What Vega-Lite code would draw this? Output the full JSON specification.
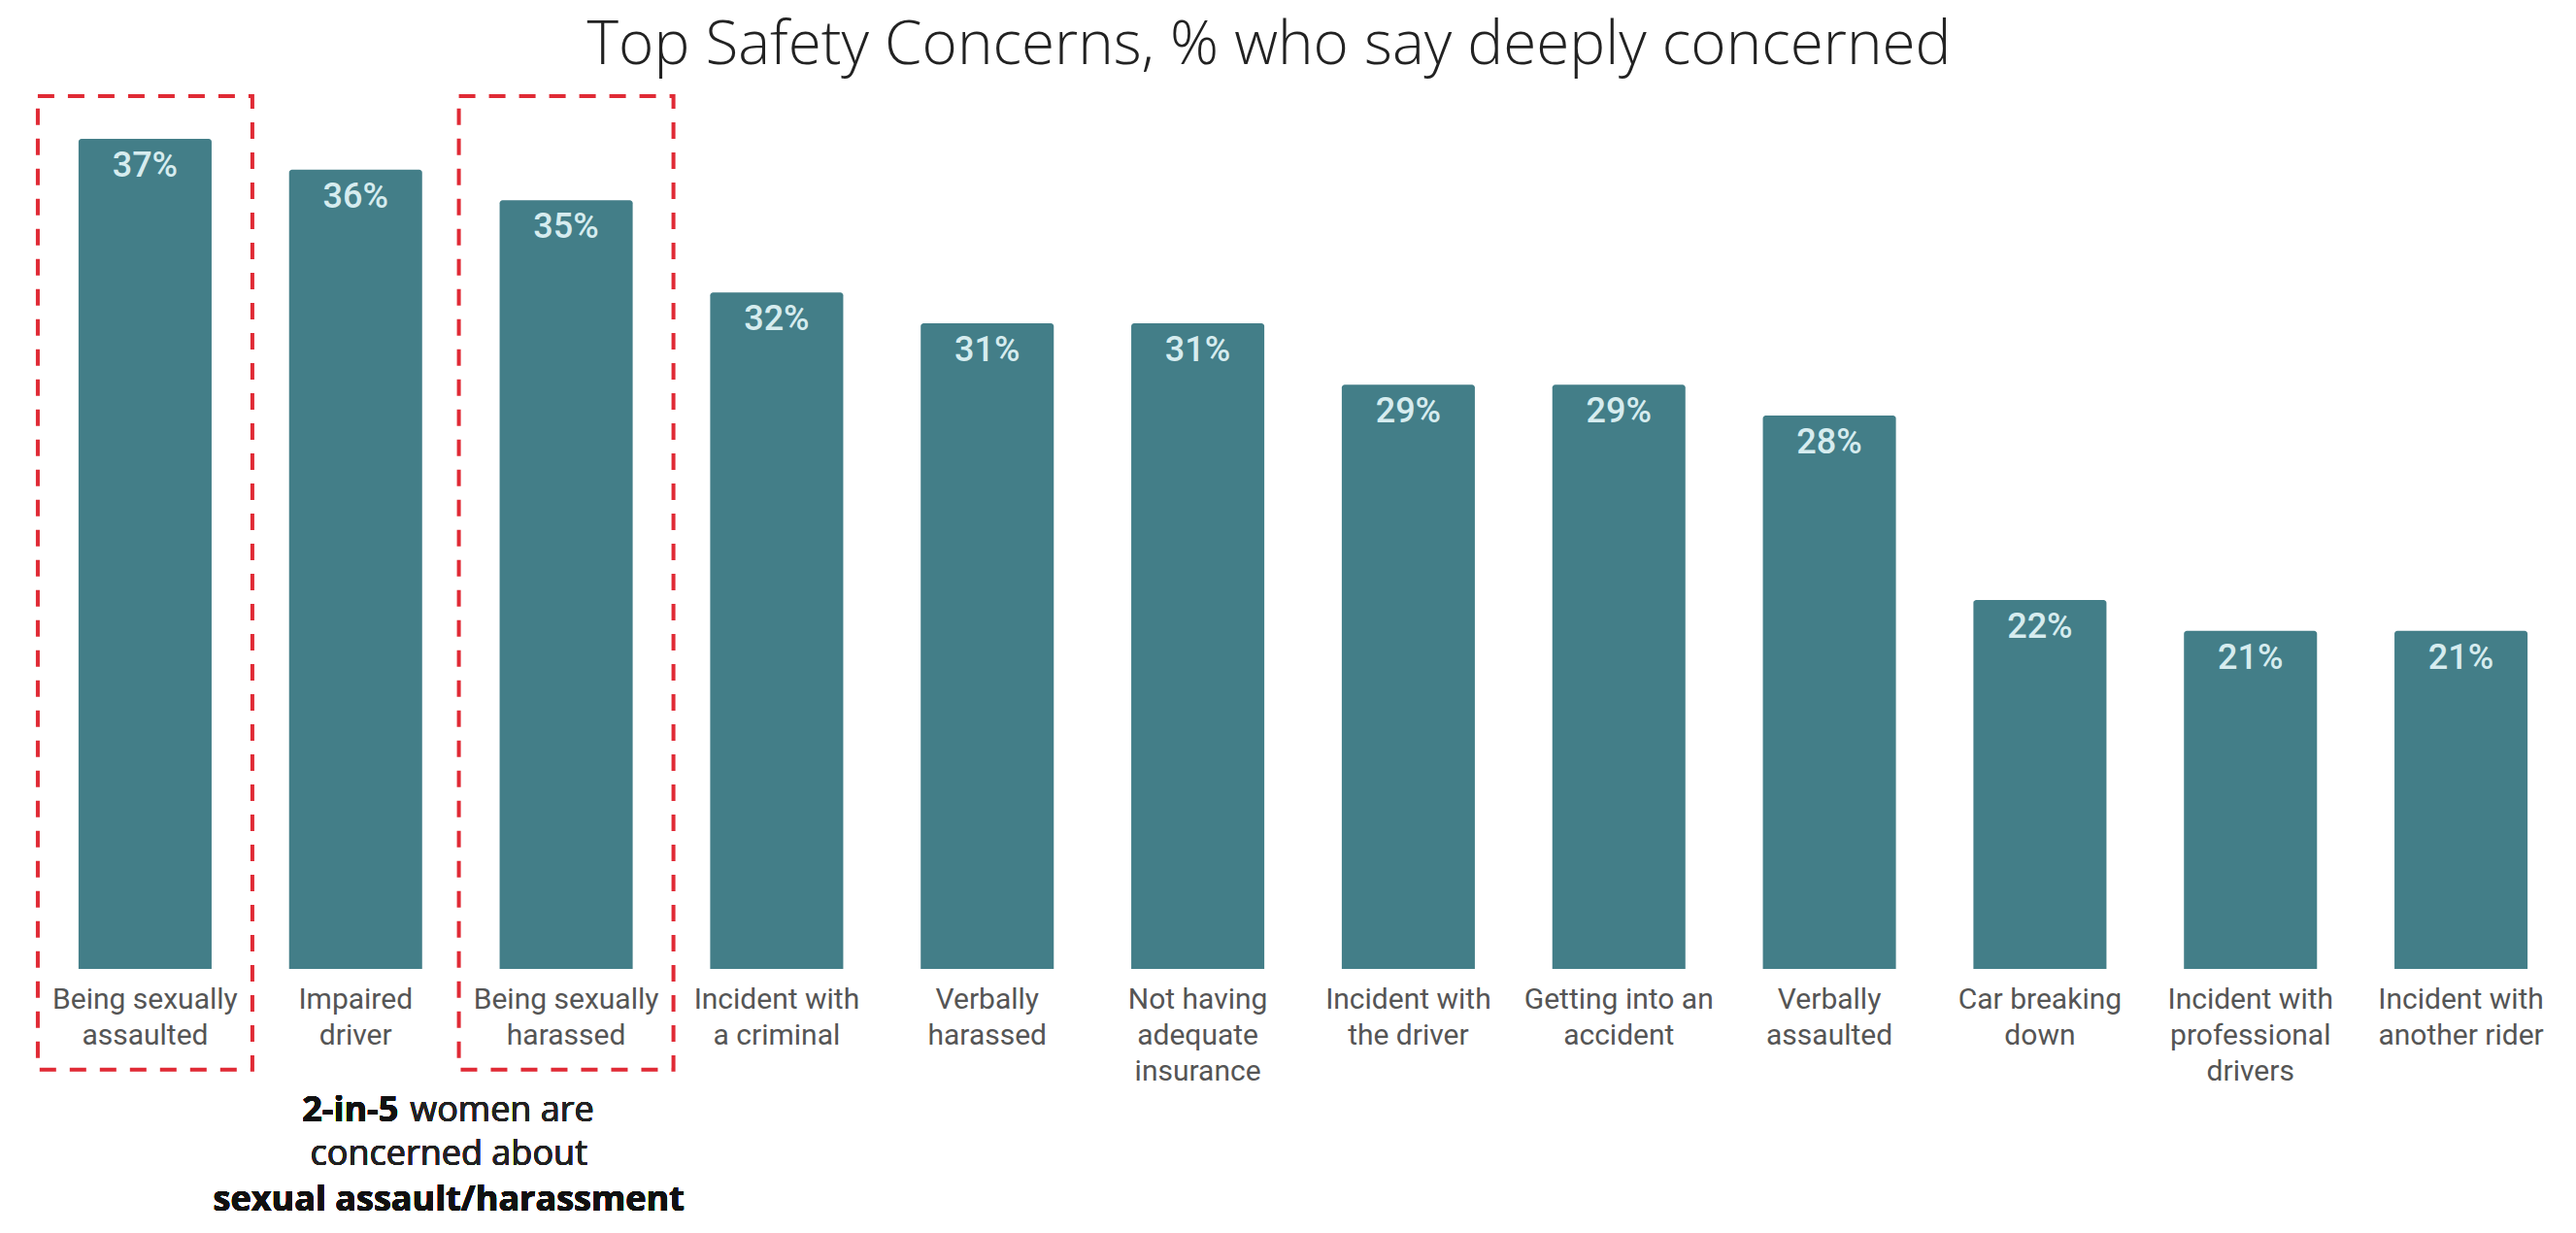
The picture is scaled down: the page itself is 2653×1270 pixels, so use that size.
{
  "$schema": "https://vega.github.io/schema/vega-lite/v6.json",
  "autosize": {"type": "none"},
  "width": 2602,
  "height": 855,
  "padding": {"left": 41, "top": 143, "right": 10, "bottom": 272},
  "background": "white",
  "config": {"view": {"stroke": null}},
  "title": {
    "text": "Top Safety Concerns, % who say deeply concerned",
    "anchor": "middle",
    "baseline": "alphabetic",
    "offset": -31,
    "dx": -35,
    "font": "Open Sans",
    "fontSize": 62,
    "fontWeight": 300,
    "color": "#222222"
  },
  "data": {
    "values": [
      {"concern": "Being sexually assaulted", "pct": 0.37},
      {"concern": "Impaired driver", "pct": 0.36},
      {"concern": "Being sexually harassed", "pct": 0.35},
      {"concern": "Incident with a criminal", "pct": 0.32},
      {"concern": "Verbally harassed", "pct": 0.31},
      {"concern": "Not having adequate insurance", "pct": 0.31},
      {"concern": "Incident with the driver", "pct": 0.29},
      {"concern": "Getting into an accident", "pct": 0.29},
      {"concern": "Verbally assaulted", "pct": 0.28},
      {"concern": "Car breaking down", "pct": 0.22},
      {"concern": "Incident with professional drivers", "pct": 0.21},
      {"concern": "Incident with another rider", "pct": 0.21}
    ]
  },
  "encoding": {
    "x": {
      "field": "concern",
      "type": "nominal",
      "sort": null,
      "scale": {"paddingInner": 0.368, "paddingOuter": 0.184},
      "axis": {
        "title": null,
        "labelAngle": 0,
        "domain": false,
        "ticks": false,
        "labelFont": "Roboto",
        "labelFontSize": 30,
        "labelColor": "#555555",
        "labelLineHeight": 37,
        "labelPadding": 16,
        "labelBaseline": "top",
        "labelLimit": 0,
        "labelOverlap": false,
        "labelExpr": "split(replace(replace(replace(datum.label, /^(Being sexually|Incident with|Not having|Getting into an|Car breaking|Verbally|Impaired) /, '$1|'), 'adequate ', 'adequate|'), 'professional ', 'professional|'), '|')"
      }
    }
  },
  "layer": [
    {
      "mark": {"type": "bar", "color": "#437e88", "cornerRadiusTopLeft": 3, "cornerRadiusTopRight": 3},
      "encoding": {
        "y": {"field": "pct", "type": "quantitative", "scale": {"domain": [0.1, 0.37], "zero": false, "nice": false}, "axis": null},
        "y2": {"datum": 0.1}
      }
    },
    {
      "mark": {"type": "text", "color": "#d6ecef", "font": "Roboto", "fontSize": 36, "fontWeight": 500, "baseline": "alphabetic", "dy": 39},
      "encoding": {
        "y": {"field": "pct", "type": "quantitative"},
        "text": {"field": "pct", "type": "quantitative", "format": ".0%"}
      }
    },
    {
      "transform": [{"filter": {"field": "concern", "oneOf": ["Being sexually assaulted", "Being sexually harassed"]}}],
      "mark": {"type": "bar", "filled": false, "fill": null, "stroke": "#e02a35", "strokeWidth": 4, "strokeDash": [17, 14], "width": 221},
      "encoding": {
        "y": {"datum": 0.3839},
        "y2": {"datum": 0.0672}
      }
    },
    {
      "mark": {"type": "text", "font": "Open Sans", "fontSize": 36, "fontWeight": "bold", "color": "#111111", "align": "right", "baseline": "alphabetic", "dx": 44},
      "encoding": {"x": {"datum": "Impaired driver"}, "y": {"datum": 0.0504}, "text": {"value": "2-in-5"}}
    },
    {
      "mark": {"type": "text", "font": "Open Sans", "fontSize": 36, "color": "#222222", "align": "left", "baseline": "alphabetic", "dx": 56},
      "encoding": {"x": {"datum": "Impaired driver"}, "y": {"datum": 0.0504}, "text": {"value": "women are"}}
    },
    {
      "mark": {"type": "text", "font": "Open Sans", "fontSize": 36, "color": "#222222", "align": "center", "baseline": "alphabetic", "dx": 96},
      "encoding": {"x": {"datum": "Impaired driver"}, "y": {"datum": 0.0362}, "text": {"value": "concerned about"}}
    },
    {
      "mark": {"type": "text", "font": "Open Sans", "fontSize": 36, "fontWeight": "bold", "color": "#111111", "align": "center", "baseline": "alphabetic", "dx": 96},
      "encoding": {"x": {"datum": "Impaired driver"}, "y": {"datum": 0.0214}, "text": {"value": "sexual assault/harassment"}}
    }
  ]
}
